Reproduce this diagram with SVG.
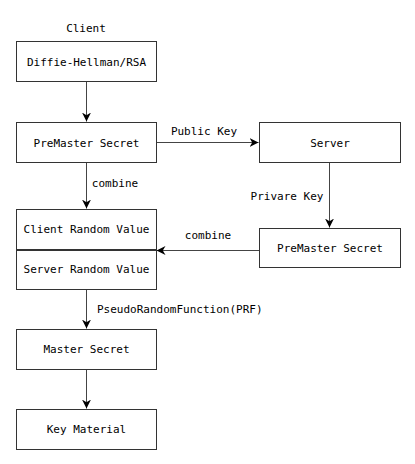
<svg xmlns="http://www.w3.org/2000/svg" width="415" height="464" viewBox="0 0 415 464">
  <style>
    .box { fill: #ffffff; stroke: #333333; stroke-width: 1; }
    .lbl { font-family: "DejaVu Sans Mono", "Liberation Mono", monospace; font-size: 11px; fill: #000000; }
    .mid { text-anchor: middle; dominant-baseline: central; }
    .edge { fill: none; stroke: #444444; stroke-width: 1; }
  </style>
  <defs>
    <marker id="arrow" viewBox="0 0 10 10" refX="10" refY="5" markerWidth="9" markerHeight="9" markerUnits="userSpaceOnUse" orient="auto">
      <path d="M0,0 L10,5 L0,10 L3,5 Z" fill="#000000"/>
    </marker>
  </defs>
  <rect width="415" height="464" fill="#ffffff"/>

  <text class="lbl mid" x="86" y="28">Client</text>

  <g id="edges">
    <path class="edge" d="M86.5,81 L86.5,121.5" marker-end="url(#arrow)"/>
    <path class="edge" d="M156,142.5 L258.5,142.5" marker-end="url(#arrow)"/>
    <text class="lbl mid" x="204" y="131">Public Key</text>
    <path class="edge" d="M86.5,162 L86.5,208.5" marker-end="url(#arrow)"/>
    <text class="lbl mid" x="115" y="183">combine</text>
    <path class="edge" d="M329.5,162 L329.5,227.5" marker-end="url(#arrow)"/>
    <text class="lbl mid" x="287" y="196">Privare Key</text>
    <path class="edge" d="M259,250.5 L156.5,250.5" marker-end="url(#arrow)"/>
    <text class="lbl mid" x="208" y="235">combine</text>
    <path class="edge" d="M86.5,289 L86.5,328.5" marker-end="url(#arrow)"/>
    <text class="lbl" x="97" y="313">PseudoRandomFunction(PRF)</text>
    <path class="edge" d="M86.5,369 L86.5,408.5" marker-end="url(#arrow)"/>
  </g>

  <g id="dh-rsa">
    <rect class="box" x="16.5" y="41.5" width="140" height="40"/>
    <text class="lbl mid" x="86.5" y="62">Diffie-Hellman/RSA</text>
  </g>
  <g id="client-premaster">
    <rect class="box" x="16.5" y="122.5" width="140" height="40"/>
    <text class="lbl mid" x="86.5" y="143">PreMaster Secret</text>
  </g>
  <g id="server">
    <rect class="box" x="259.5" y="122.5" width="141" height="40"/>
    <text class="lbl mid" x="330" y="143">Server</text>
  </g>
  <g id="server-premaster">
    <rect class="box" x="259.5" y="228.5" width="141" height="39"/>
    <text class="lbl mid" x="330" y="248">PreMaster Secret</text>
  </g>
  <g id="client-random">
    <rect class="box" x="16.5" y="209.5" width="140" height="40"/>
    <text class="lbl mid" x="86.5" y="229">Client Random Value</text>
  </g>
  <g id="server-random">
    <rect class="box" x="16.5" y="250.5" width="140" height="39"/>
    <text class="lbl mid" x="86.5" y="269">Server Random Value</text>
  </g>
  <g id="master-secret">
    <rect class="box" x="16.5" y="329.5" width="140" height="40"/>
    <text class="lbl mid" x="86.5" y="349">Master Secret</text>
  </g>
  <g id="key-material">
    <rect class="box" x="16.5" y="409.5" width="140" height="40"/>
    <text class="lbl mid" x="86.5" y="429">Key Material</text>
  </g>
</svg>
